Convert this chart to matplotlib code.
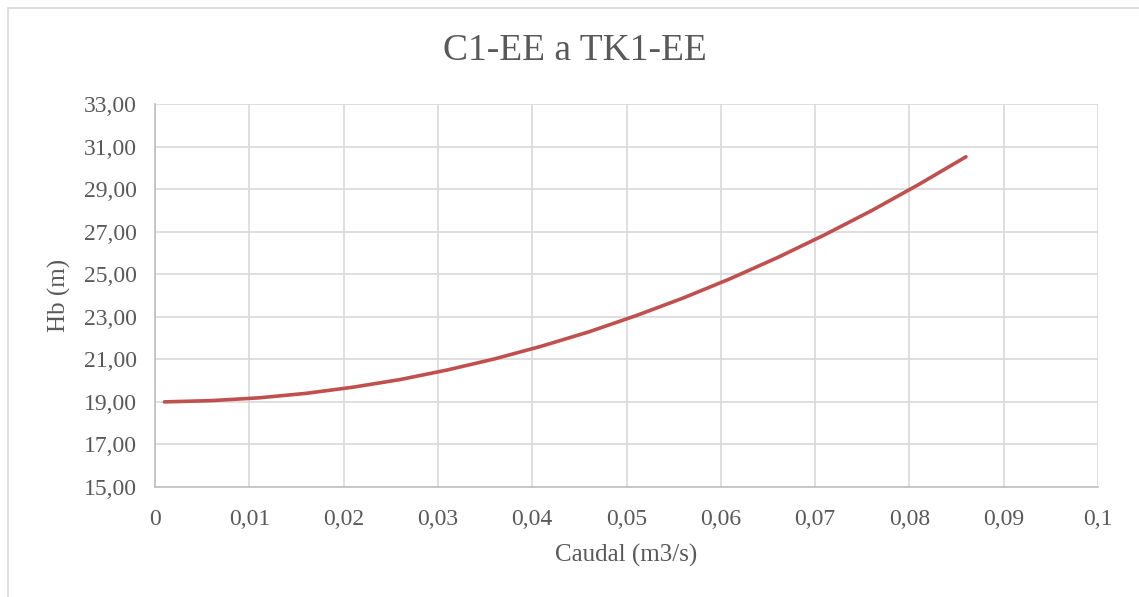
import matplotlib.pyplot as plt
from matplotlib.patches import Rectangle
from matplotlib.ticker import FuncFormatter, MultipleLocator

plt.rcParams["font.family"] = ["Liberation Serif", "DejaVu Serif"]

# caudal (m3/s) vs altura de bombeo (m)
caudal = [0.001, 0.006, 0.011, 0.016, 0.021, 0.026, 0.031, 0.036, 0.041,
          0.046, 0.051, 0.056, 0.061, 0.066, 0.071, 0.076, 0.081, 0.086]
hb = [19.00, 19.06, 19.19, 19.40, 19.69, 20.05, 20.50, 21.02, 21.62,
      22.29, 23.05, 23.88, 24.79, 25.78, 26.85, 27.99, 29.22, 30.52]
yticks = [15, 17, 19, 21, 23, 25, 27, 29, 31, 33]

gris = "#595959"

fig = plt.figure(figsize=(11.39, 5.97), dpi=100)
fig.patches.append(Rectangle((8 / 1139, -0.01), 1.02, 1 - 8 / 597 + 0.01,
                             transform=fig.transFigure, fill=False,
                             edgecolor="#d9d9d9", linewidth=1.2))

ax = fig.add_axes([155 / 1139, 1 - 487 / 597, (1098 - 155) / 1139, (487 - 104) / 597])
ax.plot(caudal, hb, color="#c0504d", linewidth=2.6, solid_capstyle="round")

ax.set_xlim(0, 0.1)
ax.set_ylim(15, 33)
ax.xaxis.set_major_locator(MultipleLocator(0.01))
ax.set_yticks(yticks)
ax.xaxis.set_major_formatter(FuncFormatter(
    lambda v, p: "0" if abs(v) < 1e-9 else f"{v:.2f}".rstrip("0").replace(".", ",")))
ax.yaxis.set_major_formatter(FuncFormatter(lambda v, p: f"{v:.2f}".replace(".", ",")))

ax.grid(True, color="#d9d9d9", linewidth=1.2)
ax.set_axisbelow(True)
for s in ["top", "right"]:
    ax.spines[s].set_visible(False)
for s in ["left", "bottom"]:
    ax.spines[s].set_color("#bfbfbf")
    ax.spines[s].set_linewidth(1.2)
ax.tick_params(labelsize=17, labelcolor=gris, length=0)
ax.tick_params(axis="x", pad=16)
ax.tick_params(axis="y", pad=13)

ax.set_xlabel("Caudal (m3/s)", fontsize=18, color=gris, labelpad=10)
ax.set_ylabel("Hb (m)", fontsize=18, color=gris, labelpad=9)
fig.text(574.5 / 1139, 1 - 51 / 597, "C1-EE a TK1-EE",
         fontsize=27, color=gris, ha="center", va="center")

fig.savefig("out.png", dpi=100)
